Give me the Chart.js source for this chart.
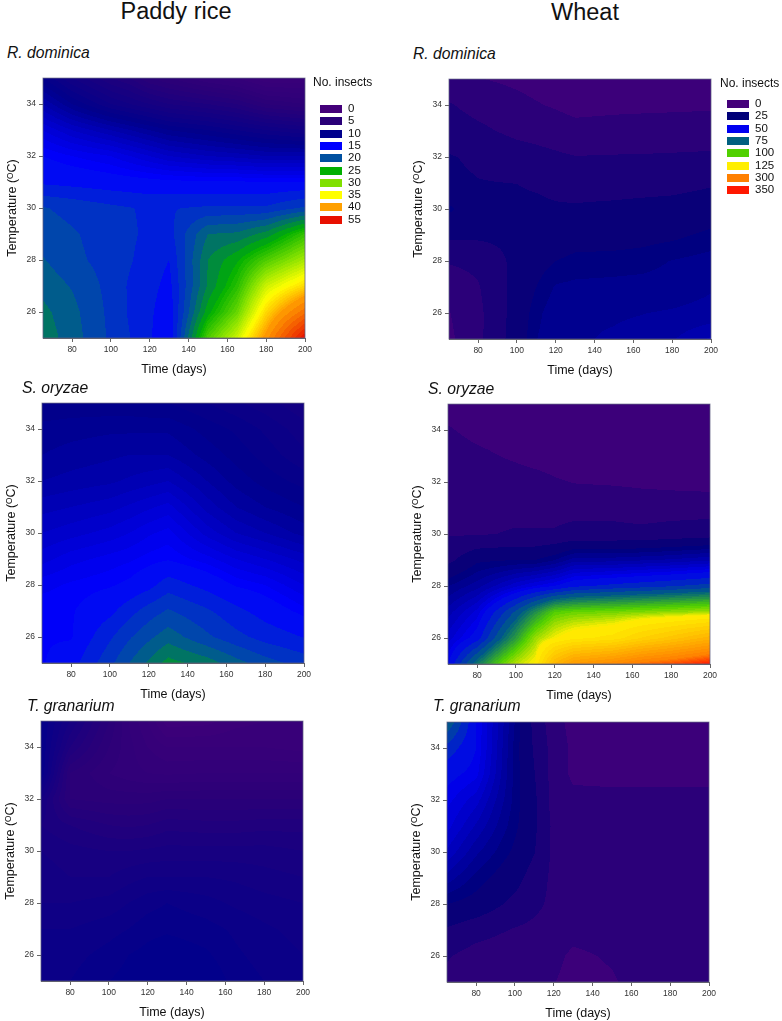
<!DOCTYPE html>
<html>
<head>
<meta charset="utf-8">
<title>Insects by time and temperature</title>
<script src="https://cdn.jsdelivr.net/npm/chart.js@4/dist/chart.umd.min.js"></script>
<style>
  html, body { margin: 0; background: #fff; }
  body { position: relative; width: 782px; height: 1021px; overflow: hidden; font-family: "Liberation Sans", Arial, sans-serif; color: #111; }
  canvas { position: absolute; }
  .head, .species, .leg-title, .leg-row { position: absolute; white-space: nowrap; line-height: 1; z-index: 2; }
  .head { font-size: 23.5px; transform: translateX(-50%); }
  .species { font-size: 15.7px; font-style: italic; }
  .leg-title { font-size: 12px; }
  .leg-row { font-size: 11.5px; height: 12px; }
  .leg-row i { position: absolute; left: 0; top: 2px; width: 22px; height: 8px; }
  .leg-row span { position: absolute; left: 28px; top: 0; }
</style>
</head>
<body>
<script>
// axes of the reading grid
const timeDays = [65, 80, 100, 110, 120, 130, 150, 165, 180, 200];
const temperatures = [25, 26, 27, 28, 29, 30, 31, 32, 33, 34, 35];
const timeTicks = [80, 100, 120, 140, 160, 180, 200];
const tempTicks = [26, 28, 30, 32, 34];

// legends, and how many contour bands sit between two legend entries
const riceLevels = [0, 5, 10, 15, 20, 25, 30, 35, 40, 55];
const riceColors = ['#44007a', '#2a0078', '#00008c', '#0000ff', '#0050a0', '#00b000', '#80e000', '#ffff00', '#ffa000', '#e81000'];
const riceBands = [10, 10, 10, 4, 4, 8, 8, 8, 8];
const wheatLevels = [0, 25, 50, 75, 100, 125, 300, 350];
const wheatColors = ['#44007a', '#000078', '#0000f0', '#006080', '#50d000', '#ffee00', '#ff8000', '#ff1800'];
const wheatBands = [4, 8, 4, 8, 8, 12, 8];

// insects, one row per temperature (25 up to 35)
const riceDominica = [
  [22, 20.6, 18.5, 17.5, 16.4, 15, 28, 33, 41, 55],
  [21.6, 20.4, 18.4, 17.3, 16.5, 15.3, 24.5, 29, 37, 45],
  [20.8, 19.9, 18.3, 17.3, 16.7, 15.8, 22.7, 26.5, 33, 37],
  [20.1, 19.1, 18.2, 17.6, 16.9, 16.25, 22.5, 24.8, 28, 31.5],
  [19.3, 18.9, 18.1, 17.7, 17.2, 17, 21.25, 21.5, 23, 27],
  [18.85, 18.4, 17.8, 17.55, 17.3, 17.4, 17.7, 17.7, 17.7, 19],
  [16, 15.8, 15.5, 15.4, 15.3, 15.2, 15.1, 15.1, 15, 15],
  [15, 14.5, 14, 13.5, 13, 12.5, 12, 11.8, 11.5, 11.5],
  [13.5, 12.5, 11.5, 11, 10.5, 10, 9.5, 9, 8.5, 8],
  [11.5, 10, 8.5, 8, 7.5, 7, 6.5, 6, 5, 4.5],
  [9.5, 8, 6.5, 6, 5, 4.5, 3.5, 3, 2, 2]
];
const riceOryzae = [
  [14.9, 15.7, 18.4, 20, 21.5, 23, 21.9, 20.5, 19.3, 18.2],
  [14.9, 14.9, 17.3, 18.6, 19.7, 20.7, 19, 17.9, 17, 16.2],
  [14.9, 14.9, 15.9, 17, 18.1, 18.9, 17.7, 16.6, 15.7, 14.7],
  [14.3, 14.6, 14.9, 15.2, 15.8, 16.9, 15.8, 14.9, 14.5, 13.5],
  [13.3, 13.8, 14.2, 14.4, 14.7, 14.9, 14.2, 13.5, 13, 12.3],
  [12.5, 12.8, 13.2, 13.5, 13.9, 14.2, 12.8, 12, 11.5, 10.8],
  [11.8, 12, 12.3, 12.6, 12.9, 13.2, 11.8, 11, 10.5, 10],
  [11, 11.2, 11.4, 11.6, 11.8, 12, 11, 10.3, 9.8, 9.3],
  [10.5, 10.7, 10.9, 11, 11, 11, 10.3, 9.8, 9.3, 8.6],
  [10.2, 10.3, 10.4, 10.4, 10.4, 10.4, 9.8, 9.4, 8.9, 8.2],
  [9.5, 9.6, 9.6, 9.6, 9.5, 9.5, 9, 8.6, 8.2, 7.6]
];
const riceGranarium = [
  [9, 9, 9.5, 9.7, 9.9, 10, 10, 9.3, 9, 8.7],
  [8.7, 8.8, 9.2, 9.5, 9.7, 9.9, 9.6, 9.1, 8.8, 8.5],
  [8.5, 8.5, 8.8, 9, 9.3, 9.4, 9.2, 8.9, 8.6, 8.3],
  [8, 8, 8.2, 8.5, 8.8, 9, 8.7, 8.4, 8.2, 8],
  [7.8, 7.5, 7.5, 7.8, 8, 8, 8, 7.9, 7.7, 7.5],
  [7.5, 7.2, 7, 7, 7.1, 7.2, 7.2, 7.2, 7.2, 7],
  [7, 6.5, 6, 5.9, 6, 6.3, 6.2, 6.2, 6.3, 6.3],
  [7.5, 5, 4.8, 4.8, 4.8, 5, 5, 5, 5, 5],
  [9.5, 5, 4, 3.7, 3.5, 3.4, 3.5, 3.5, 3.5, 3.5],
  [9.5, 6.5, 4.5, 3.7, 3, 2.5, 2.5, 2.5, 2.5, 2.3],
  [9.5, 7.5, 5, 3.5, 2.5, 1.2, 1.3, 1.8, 2, 2]
];
const wheatDominica = [
  [5, 11, 22, 28, 31, 31, 31.5, 32, 34, 38],
  [6, 11, 21.5, 27, 30.5, 31, 31, 31.2, 31.5, 32],
  [9, 12, 21, 25, 28.5, 29, 29.3, 29.6, 30, 31],
  [13, 14, 20.5, 23, 25, 26, 26.3, 26.7, 28.3, 29.5],
  [20, 20, 20, 21, 22, 23, 23, 23.5, 24, 26],
  [26, 21, 20, 20, 19.5, 19.5, 20, 20.5, 21, 22],
  [20, 19, 18.7, 18, 17, 16.2, 16.3, 16.5, 16.7, 18.1],
  [19.2, 17.7, 15.5, 14.5, 13.5, 12.7, 12.9, 13, 13.2, 13.5],
  [15.5, 13.8, 11, 10.3, 9.5, 8.3, 8.7, 8.9, 9, 9.3],
  [13, 10.5, 8, 6.7, 5.6, 4.3, 4.8, 5, 5.2, 5.4],
  [8.5, 6.5, 5, 4, 3, 2.5, 2.5, 2.5, 2.5, 2.5]
];
const wheatOryzae = [
  [50, 80, 115, 127, 215, 260, 285, 310, 325, 350],
  [42, 53, 88, 110, 124, 135, 145, 170, 190, 220],
  [36, 45, 70, 85, 100, 103, 105, 107, 109, 112],
  [28, 33, 43, 47, 50, 55, 58, 60, 62, 65],
  [17, 24, 25, 25, 28, 33, 33, 34, 35, 37],
  [12, 12, 13, 13, 13, 14, 14, 14, 15, 16],
  [11, 11, 11, 11, 11, 11, 11, 10, 10, 10],
  [11, 11, 10, 9, 7, 6, 5.5, 5, 4.5, 4],
  [10, 8, 5, 3.5, 3, 3, 2, 2, 2, 2],
  [7, 4, 2, 1.5, 1, 1, 1, 1, 1, 1],
  [3, 2, 1, 1, 1, 0.5, 0.5, 0.5, 0.5, 0.5]
];
const wheatGranarium = [
  [11, 9, 8, 7, 6.5, 4, 5.5, 9, 9, 9],
  [13, 10, 8.5, 7.5, 8, 5, 7, 9, 9, 9],
  [18, 15, 12, 11, 10, 8.5, 9, 9, 9, 9],
  [25, 23, 17, 14, 11, 9, 9, 9, 9, 9],
  [33, 27, 21, 16, 11, 9, 9, 9, 9, 9],
  [40, 32, 24, 19, 11, 9, 9, 9, 9, 9],
  [45, 37, 26, 20, 11, 9, 9, 9, 9, 9],
  [48, 42, 27, 20, 10, 8, 8, 8, 8, 8],
  [52, 48, 27, 19, 10, 5, 4.5, 4.5, 4.5, 4.5],
  [60, 50, 27, 18, 10, 5, 4.5, 4, 4, 4],
  [75, 50, 28, 17, 9, 4, 4, 4, 4, 4]
];

function rgb(hex) {
  return [1, 3, 5].map(i => parseInt(hex.slice(i, i + 2), 16));
}

function bandColor(v, key) {
  const { levels, colors, bands } = key;
  let i = 0;
  while (i < levels.length - 2 && v >= levels[i + 1]) i++;
  const f = Math.min(0.999, Math.max(0, (v - levels[i]) / (levels[i + 1] - levels[i])));
  const t = (Math.floor(f * bands[i]) + 0.5) / bands[i];
  const a = rgb(colors[i]), b = rgb(colors[i + 1]);
  return 'rgb(' + a.map((c, k) => Math.round(c + (b[k] - c) * t)).join(',') + ')';
}

function segment(axis, v) {
  let i = 0;
  while (i < axis.length - 2 && v > axis[i + 1]) i++;
  return [i, Math.min(1, Math.max(0, (v - axis[i]) / (axis[i + 1] - axis[i])))];
}

// paints the filled contours pixel by pixel, position comes from the scales
const contourPlugin = {
  id: 'contour',
  beforeDatasetsDraw(chart, args, opts) {
    const { ctx, chartArea: area, scales: { x, y } } = chart;
    const pts = chart.data.datasets[0].data;
    const nx = timeDays.length;
    const right = Math.round(area.right);
    ctx.save();
    for (let py = Math.round(area.top); py < Math.round(area.bottom); py++) {
      const [r, fy] = segment(temperatures, y.getValueForPixel(py + 0.5));
      let start = Math.round(area.left), last = null;
      for (let px = start; px <= right; px++) {
        let col = null;
        if (px < right) {
          const [c, fx] = segment(timeDays, x.getValueForPixel(px + 0.5));
          const lo = pts[r * nx + c].v * (1 - fx) + pts[r * nx + c + 1].v * fx;
          const hi = pts[(r + 1) * nx + c].v * (1 - fx) + pts[(r + 1) * nx + c + 1].v * fx;
          col = bandColor(lo * (1 - fy) + hi * fy, opts);
        }
        if (col !== last) {
          if (last) { ctx.fillStyle = last; ctx.fillRect(start, py, px - start, 1); }
          start = px; last = col;
        }
      }
    }
    ctx.strokeStyle = 'rgba(95,95,130,0.75)';
    ctx.lineWidth = 1;
    ctx.strokeRect(area.left, area.top, area.width, area.height);
    ctx.restore();
  }
};

const Y_AXIS_W = 43, X_AXIS_H = 40, PAD_TOP = 6, PAD_RIGHT = 12, PLOT = 262;
const riceKey = { levels: riceLevels, colors: riceColors, bands: riceBands };
const wheatKey = { levels: wheatLevels, colors: wheatColors, bands: wheatBands };

function drawPanel(left, top, grid, key) {
  const cv = document.createElement('canvas');
  cv.width = Y_AXIS_W + PLOT + PAD_RIGHT;
  cv.height = PAD_TOP + PLOT + X_AXIS_H;
  cv.style.left = (left - Y_AXIS_W) + 'px';
  cv.style.top = (top - PAD_TOP) + 'px';
  document.body.appendChild(cv);
  const points = [];
  temperatures.forEach((t, r) => timeDays.forEach((d, c) => points.push({ x: d, y: t, v: grid[r][c] })));
  const tickFont = { family: "'Liberation Sans', Arial, sans-serif", size: 8.5 };
  const titleFont = { family: "'Liberation Sans', Arial, sans-serif", size: 12.5 };
  new Chart(cv, {
    type: 'scatter',
    data: { datasets: [{ data: points, pointRadius: 0, showLine: false }] },
    options: {
      responsive: false,
      animation: false,
      events: [],
      layout: { padding: { top: PAD_TOP, right: PAD_RIGHT, left: 0, bottom: 0 } },
      plugins: {
        legend: { display: false },
        tooltip: { enabled: false },
        contour: key
      },
      scales: {
        x: {
          type: 'linear', min: 65, max: 200,
          afterBuildTicks: s => { s.ticks = timeTicks.map(value => ({ value })); },
          afterFit: s => { s.height = X_AXIS_H; },
          ticks: { font: tickFont, color: '#333', maxRotation: 0, padding: 3 },
          grid: { drawOnChartArea: false, tickLength: 4, tickColor: '#666' },
          border: { color: '#666' },
          title: { display: true, text: 'Time (days)', font: titleFont, color: '#111', padding: { top: 0, bottom: 1 } }
        },
        y: {
          type: 'linear', min: 25, max: 35,
          afterBuildTicks: s => { s.ticks = tempTicks.map(value => ({ value })); },
          afterFit: s => { s.width = Y_AXIS_W; },
          ticks: { font: tickFont, color: '#333', padding: 3 },
          grid: { drawOnChartArea: false, tickLength: 4, tickColor: '#666' },
          border: { color: '#666' },
          title: { display: true, text: 'Temperature (ᴼC)', font: titleFont, color: '#111', padding: { top: 5, bottom: 0 } }
        }
      }
    },
    plugins: [contourPlugin]
  });
}

function addText(cls, text, left, top) {
  const el = document.createElement('div');
  el.className = cls;
  el.textContent = text;
  el.style.left = left + 'px';
  el.style.top = top + 'px';
  document.body.appendChild(el);
  return el;
}

function drawLegend(left, top, firstRow, key) {
  addText('leg-title', 'No. insects', left, top);
  key.levels.forEach((lv, i) => {
    const row = addText('leg-row', '', left + 7, firstRow + i * 12.3);
    row.innerHTML = '<i style="background:' + key.colors[i] + '"></i><span>' + lv + '</span>';
  });
}

drawPanel(43, 76, riceDominica, riceKey);
drawPanel(449, 77, wheatDominica, wheatKey);
drawPanel(42, 401, riceOryzae, riceKey);
drawPanel(448, 402, wheatOryzae, wheatKey);
drawPanel(41, 719, riceGranarium, riceKey);
drawPanel(447, 720, wheatGranarium, wheatKey);

addText('head', 'Paddy rice', 176, 0);
addText('head', 'Wheat', 585, 1);
addText('species', 'R. dominica', 7, 45);
addText('species', 'R. dominica', 413, 46);
addText('species', 'S. oryzae', 22, 380);
addText('species', 'S. oryzae', 428, 381);
addText('species', 'T. granarium', 27, 698);
addText('species', 'T. granarium', 433, 698);
drawLegend(313, 76, 103, riceKey);
drawLegend(720, 77, 98, wheatKey);
</script>
</body>
</html>
